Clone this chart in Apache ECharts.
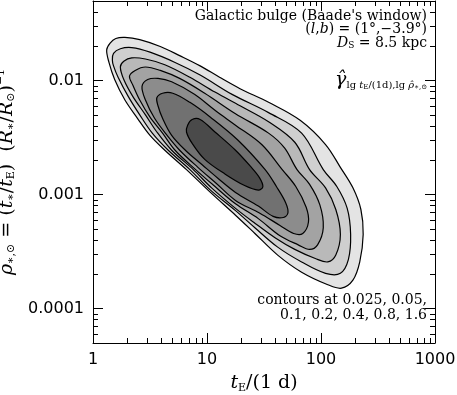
<!DOCTYPE html>
<html>
<head>
<meta charset="utf-8">
<script src="https://cdn.jsdelivr.net/npm/echarts@6/dist/echarts.min.js"></script>
<style>
  html, body { margin: 0; padding: 0; background: #fff; }
  #chart { width: 457px; height: 395px; }
</style>
</head>
<body>
<div id="chart"></div>
<script>
// contour levels of gamma and the grey used inside each one
const levels = [0.025, 0.05, 0.1, 0.2, 0.4, 0.8, 1.6];
const levelFills = ['#e4e4e4', '#cfcfcf', '#b9b9b9', '#a3a3a3', '#8c8c8c', '#717171', '#4a4a4a'];

// contour vertices, as [lg tE, lg rho]
const c0025 = [[0.12,-1.73],[0.15,-1.67],[0.20,-1.63],[0.28,-1.62],[0.41,-1.64],[0.59,-1.70],[0.76,-1.78],[0.94,-1.87],[1.11,-1.97],[1.29,-2.07],[1.54,-2.19],[1.82,-2.35],[2.04,-2.56],[2.17,-2.76],[2.28,-2.94],[2.35,-3.13],[2.37,-3.35],[2.34,-3.59],[2.28,-3.75],[2.18,-3.82],[2.06,-3.79],[1.83,-3.68],[1.62,-3.53],[1.42,-3.34],[1.25,-3.18],[1.03,-2.98],[0.82,-2.78],[0.63,-2.61],[0.50,-2.48],[0.39,-2.33],[0.28,-2.17],[0.19,-1.99],[0.14,-1.84]];
const c005 = [[0.17,-1.82],[0.18,-1.76],[0.24,-1.72],[0.34,-1.71],[0.50,-1.75],[0.72,-1.84],[0.94,-1.95],[1.22,-2.12],[1.54,-2.28],[1.83,-2.46],[2.02,-2.78],[2.14,-2.93],[2.23,-3.12],[2.26,-3.35],[2.24,-3.57],[2.17,-3.69],[2.04,-3.69],[1.83,-3.59],[1.62,-3.46],[1.42,-3.29],[1.25,-3.14],[1.03,-2.96],[0.85,-2.78],[0.66,-2.61],[0.52,-2.46],[0.41,-2.30],[0.31,-2.14],[0.22,-1.97],[0.18,-1.87]];
const c01 = [[0.24,-1.88],[0.27,-1.83],[0.34,-1.80],[0.46,-1.81],[0.63,-1.86],[0.85,-1.97],[1.07,-2.10],[1.29,-2.22],[1.54,-2.36],[1.77,-2.54],[1.90,-2.78],[2.04,-2.94],[2.13,-3.13],[2.17,-3.35],[2.13,-3.53],[2.06,-3.59],[1.95,-3.56],[1.77,-3.48],[1.60,-3.38],[1.42,-3.25],[1.25,-3.12],[1.04,-2.94],[0.88,-2.78],[0.69,-2.61],[0.56,-2.45],[0.46,-2.30],[0.35,-2.14],[0.27,-1.99]];
const c02 = [[0.32,-1.96],[0.37,-1.91],[0.46,-1.88],[0.59,-1.91],[0.76,-1.98],[0.98,-2.11],[1.25,-2.29],[1.54,-2.46],[1.68,-2.59],[1.79,-2.78],[1.90,-2.91],[1.99,-3.09],[2.02,-3.29],[1.97,-3.44],[1.90,-3.48],[1.80,-3.44],[1.64,-3.36],[1.45,-3.21],[1.25,-3.08],[1.06,-2.92],[0.90,-2.78],[0.72,-2.61],[0.61,-2.46],[0.50,-2.32],[0.41,-2.17],[0.35,-2.04]];
const c04 = [[0.43,-2.05],[0.48,-1.99],[0.57,-1.98],[0.69,-2.01],[0.89,-2.12],[1.07,-2.26],[1.25,-2.39],[1.48,-2.56],[1.66,-2.78],[1.78,-2.93],[1.87,-3.11],[1.89,-3.24],[1.84,-3.34],[1.76,-3.34],[1.64,-3.27],[1.46,-3.16],[1.25,-3.05],[1.08,-2.90],[0.92,-2.76],[0.76,-2.61],[0.65,-2.48],[0.54,-2.33],[0.46,-2.17]];
const c08 = [[0.56,-2.15],[0.61,-2.11],[0.70,-2.11],[0.85,-2.19],[1.03,-2.32],[1.27,-2.52],[1.51,-2.78],[1.61,-2.93],[1.69,-3.07],[1.71,-3.16],[1.67,-3.20],[1.58,-3.19],[1.45,-3.10],[1.25,-2.98],[1.10,-2.86],[0.96,-2.74],[0.81,-2.61],[0.69,-2.48],[0.61,-2.33],[0.57,-2.22]];
const c16 = [[0.83,-2.39],[0.87,-2.34],[0.94,-2.34],[1.07,-2.45],[1.25,-2.61],[1.38,-2.75],[1.46,-2.85],[1.49,-2.93],[1.45,-2.96],[1.33,-2.92],[1.16,-2.82],[0.98,-2.69],[0.87,-2.55],[0.82,-2.45]];
const contours = [c0025, c005, c01, c02, c04, c08, c16];

// axis ticks
const xMajor = [1, 10, 100, 1000];
const xMinor = [2, 3, 4, 5, 6, 7, 8, 9, 20, 30, 40, 50, 60, 70, 80, 90, 200, 300, 400, 500, 600, 700, 800, 900];
const yMajor = [0.0001, 0.001, 0.01];
const yMinor = [0.00006, 0.00007, 0.00008, 0.00009, 0.0002, 0.0003, 0.0004, 0.0005, 0.0006, 0.0007, 0.0008, 0.0009,
  0.002, 0.003, 0.004, 0.005, 0.006, 0.007, 0.008, 0.009, 0.02, 0.03, 0.04];

const serif = '"DejaVu Serif", "Liberation Serif", serif';
const sans = '"DejaVu Sans", sans-serif';

const chart = echarts.init(document.getElementById('chart'), null, { renderer: 'canvas' });

const fmtTick = (v) => String(+Number(v).toPrecision(1));

function makeAxis(pos, min, max, values, len, labels) {
  return {
    type: 'log',
    logBase: 10,
    position: pos,
    min: min,
    max: max,
    axisLine: { show: len > 6, onZero: false, lineStyle: { color: '#000', width: 1 } },
    axisTick: { show: true, inside: true, length: len, customValues: values, lineStyle: { color: '#000', width: 1 } },
    axisLabel: labels
      ? { show: true, customValues: values, color: '#000', fontFamily: sans, fontSize: 16, margin: 9, formatter: fmtTick }
      : { show: false },
    splitLine: { show: false },
    minorTick: { show: false },
    axisPointer: { show: false },
  };
}

const titleRich = {
  n: { fontFamily: serif, fontSize: 19, lineHeight: 21, color: '#000' },
  i: { fontFamily: serif, fontStyle: 'italic', fontSize: 19, lineHeight: 21, color: '#000' },
  sub: { fontFamily: serif, fontSize: 11, lineHeight: 7, verticalAlign: 'bottom', color: '#000' },
  sup: { fontFamily: serif, fontSize: 11, lineHeight: 7, verticalAlign: 'top', color: '#000' },
};

const xBottom = makeAxis('bottom', 0.9999, 1000.1, xMajor, 10, true);
xBottom.name = '{i|t}{sub|E}{n|/(1 d)}';
xBottom.nameLocation = 'middle';
xBottom.nameGap = 30;
xBottom.nameTextStyle = { rich: titleRich };

const yLeft = makeAxis('left', 0.00005, 0.05, yMajor, 10, true);
yLeft.name = '{i|ρ̂}{sub|∗,⊙}{n| = (}{i|t}{sub|∗}{n|/}{i|t}{sub|E}{n|)  (}{i|R}{sub|∗}{n|/}{i|R}{sub|⊙}{n|)}{sup|−1}';
yLeft.nameLocation = 'middle';
yLeft.nameRotate = 90;
yLeft.nameGap = 64;
yLeft.nameTextStyle = { rich: titleRich };

const small = {
  n: { fontFamily: serif, fontSize: 14, lineHeight: 14, color: '#000' },
  i: { fontFamily: serif, fontStyle: 'italic', fontSize: 14, lineHeight: 14, color: '#000' },
  s: { fontFamily: serif, fontSize: 9, lineHeight: 5, verticalAlign: 'bottom', color: '#000' },
  g: { fontFamily: serif, fontStyle: 'italic', fontSize: 19, lineHeight: 20, color: '#000' },
  gs: { fontFamily: serif, fontSize: 10, lineHeight: 8, verticalAlign: 'bottom', color: '#000' },
  gsi: { fontFamily: serif, fontStyle: 'italic', fontSize: 10, lineHeight: 8, verticalAlign: 'bottom', color: '#000' },
  gss: { fontFamily: serif, fontSize: 7, lineHeight: 3, verticalAlign: 'bottom', color: '#000' },
};

function note(text, y) {
  return {
    type: 'text',
    right: 30,
    top: y,
    style: { text: text, rich: small, fill: '#000', align: 'right' },
    silent: true,
  };
}

const option = {
  animation: false,
  backgroundColor: '#fff',
  grid: { left: 93, top: 1, width: 342, height: 342, outerBoundsMode: 'none', containLabel: false },
  xAxis: [
    xBottom,
    makeAxis('bottom', 0.9999, 1000.1, xMinor, 5, false),
    makeAxis('top', 0.9999, 1000.1, xMajor, 10, false),
    makeAxis('top', 0.9999, 1000.1, xMinor, 5, false),
  ],
  yAxis: [
    yLeft,
    makeAxis('left', 0.00005, 0.05, yMinor, 5, false),
    makeAxis('right', 0.00005, 0.05, yMajor, 10, false),
    makeAxis('right', 0.00005, 0.05, yMinor, 5, false),
  ],
  series: [
    {
      type: 'custom',
      coordinateSystem: 'cartesian2d',
      xAxisIndex: 0,
      yAxisIndex: 0,
      silent: true,
      clip: true,
      encode: { x: 0, y: 1 },
      data: contours.map((c, i) => [Math.pow(10, c[0][0]), Math.pow(10, c[0][1]), levels[i]]),
      renderItem: (params, api) => {
        const pts = contours[params.dataIndex].map(([lt, lr]) => api.coord([Math.pow(10, lt), Math.pow(10, lr)]));
        return {
          type: 'polygon',
          shape: { points: pts, smooth: 0.35 },
          style: { fill: levelFills[params.dataIndex], stroke: '#000', lineWidth: 1.2 },
        };
      },
    },
  ],
  graphic: [
    note("{n|Galactic bulge (Baade's window)}", 9),
    note('{n|(}{i|l}{n|,}{i|b}{n|) = (1°,−3.9°)}', 22),
    note('{i|D}{s|S}{n| = 8.5 kpc}', 36),
    note('{g|γ̂}{gs|lg }{gsi|t}{gss|E}{gs|/(1d),lg }{gsi|ρ̂}{gss|∗,⊙}', 71),
    note('{n|contours at ' + levels.slice(0, 2).join(', ') + ',}', 293),
    note('{n|' + levels.slice(2).join(', ') + '}', 308),
  ],
};

chart.setOption(option);
</script>
</body>
</html>
